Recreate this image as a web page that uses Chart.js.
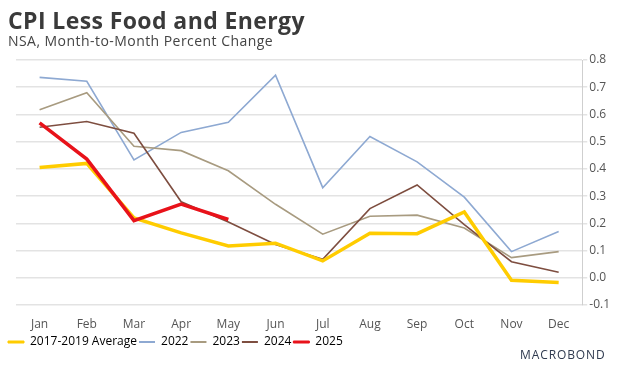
<!DOCTYPE html>
<html>
<head>
<meta charset="utf-8">
<script src="https://cdn.jsdelivr.net/npm/chart.js@4"></script>
<style>
  body { margin: 0; background: #fff; }
  #wrap { position: relative; width: 624px; height: 370px; }
  #title { position: absolute; left: 8px; top: 4px; font: bold 23px "Open Sans", sans-serif; color: #3a3a3a; letter-spacing: 0.4px; }
  #subtitle { position: absolute; left: 8px; top: 31px; font: 14px "Open Sans", sans-serif; color: #444; letter-spacing: 0.45px; }
  #logo { position: absolute; left: 520px; top: 346px; font: 12px "Open Sans", sans-serif; color: #2f3a4f; letter-spacing: 0.9px; }
</style>
</head>
<body>
<div id="wrap">
  <canvas id="cpiChart" width="624" height="370"></canvas>
  <div id="title">CPI Less Food and Energy</div>
  <div id="subtitle">NSA, Month-to-Month Percent Change</div>
  <div id="logo">MACROBOND</div>
</div>
<script>
// months on the x axis
const months = ['Jan', 'Feb', 'Mar', 'Apr', 'May', 'Jun', 'Jul', 'Aug', 'Sep', 'Oct', 'Nov', 'Dec'];

// month-to-month % change
const avg2017to2019 = [0.405, 0.42, 0.22, 0.165, 0.117, 0.127, 0.062, 0.164, 0.162, 0.242, -0.009, -0.017];
const y2022 = [0.736, 0.722, 0.433, 0.534, 0.571, 0.744, 0.331, 0.519, 0.426, 0.296, 0.096, 0.17];
const y2023 = [0.617, 0.68, 0.483, 0.467, 0.393, 0.27, 0.16, 0.226, 0.23, 0.183, 0.074, 0.096];
const y2024 = [0.553, 0.574, 0.531, 0.279, 0.205, 0.122, 0.068, 0.254, 0.341, 0.195, 0.059, 0.02];
const y2025 = [0.569, 0.436, 0.21, 0.271, 0.214];

// right axis ticks
const yTicks = [-0.1, 0.0, 0.1, 0.2, 0.3, 0.4, 0.5, 0.6, 0.7, 0.8];

const tickFont = { family: 'Open Sans', size: 12 };
const legendFont = { family: 'Open Sans', size: 12 };

function series(label, data, color, width, order) {
    return {
        label: label,
        data: data,
        borderColor: color,
        backgroundColor: color,
        borderWidth: width,
        pointRadius: 0,
        tension: 0,
        order: order
    };
}

const ctx = document.getElementById('cpiChart').getContext('2d');
const cpiChart = new Chart(ctx, {
    type: 'line',
    data: {
        labels: months,
        datasets: [
            series('2017-2019 Average', avg2017to2019, '#FFCC00', 3.5, 1),
            series('2022', y2022, '#8EA9D2', 1.6, 4),
            series('2023', y2023, '#A89B80', 1.6, 3),
            series('2024', y2024, '#7E4E40', 1.6, 2),
            series('2025', y2025, '#E8121A', 3.5, 0)
        ]
    },
    options: {
        responsive: false,
        animation: false,
        layout: { padding: { left: 6, right: 12, top: 60, bottom: 12 } },
        plugins: {
            tooltip: { enabled: false },
            legend: {
                position: 'bottom',
                align: 'start',
                labels: {
                    boxWidth: 16,
                    boxHeight: 2,
                    padding: 2,
                    color: '#444',
                    font: legendFont,
                    generateLabels: (chart) => chart.data.datasets.map((ds, i) => ({
                        text: ds.label,
                        fillStyle: ds.borderColor,
                        strokeStyle: ds.borderColor,
                        lineWidth: ds.borderWidth > 2 ? 1 : 0,
                        datasetIndex: i,
                        hidden: false
                    }))
                }
            }
        },
        scales: {
            x: {
                offset: true,
                grid: { display: false, drawTicks: false },
                border: { display: false },
                ticks: { color: '#555', font: tickFont, padding: 12, maxRotation: 0 },
                afterFit: (scale) => { scale.height = 29; }
            },
            pad: {
                // empty left axis, only reserves the space left of the plot
                position: 'left',
                grid: { display: false },
                border: { display: false },
                ticks: { display: false },
                afterFit: (scale) => { scale.width = 10; }
            },
            y: {
                position: 'right',
                min: -0.1,
                max: 0.8,
                afterBuildTicks: (scale) => { scale.ticks = yTicks.map(v => ({ value: v })); },
                grid: { color: '#e3e3e3', lineWidth: 1.5, tickLength: 5 },
                border: { color: '#cfcfcf', width: 1 },
                ticks: {
                    color: '#555',
                    font: tickFont,
                    padding: 2,
                    callback: (v) => v.toFixed(1)
                }
            }
        }
    }
});
</script>
</body>
</html>
